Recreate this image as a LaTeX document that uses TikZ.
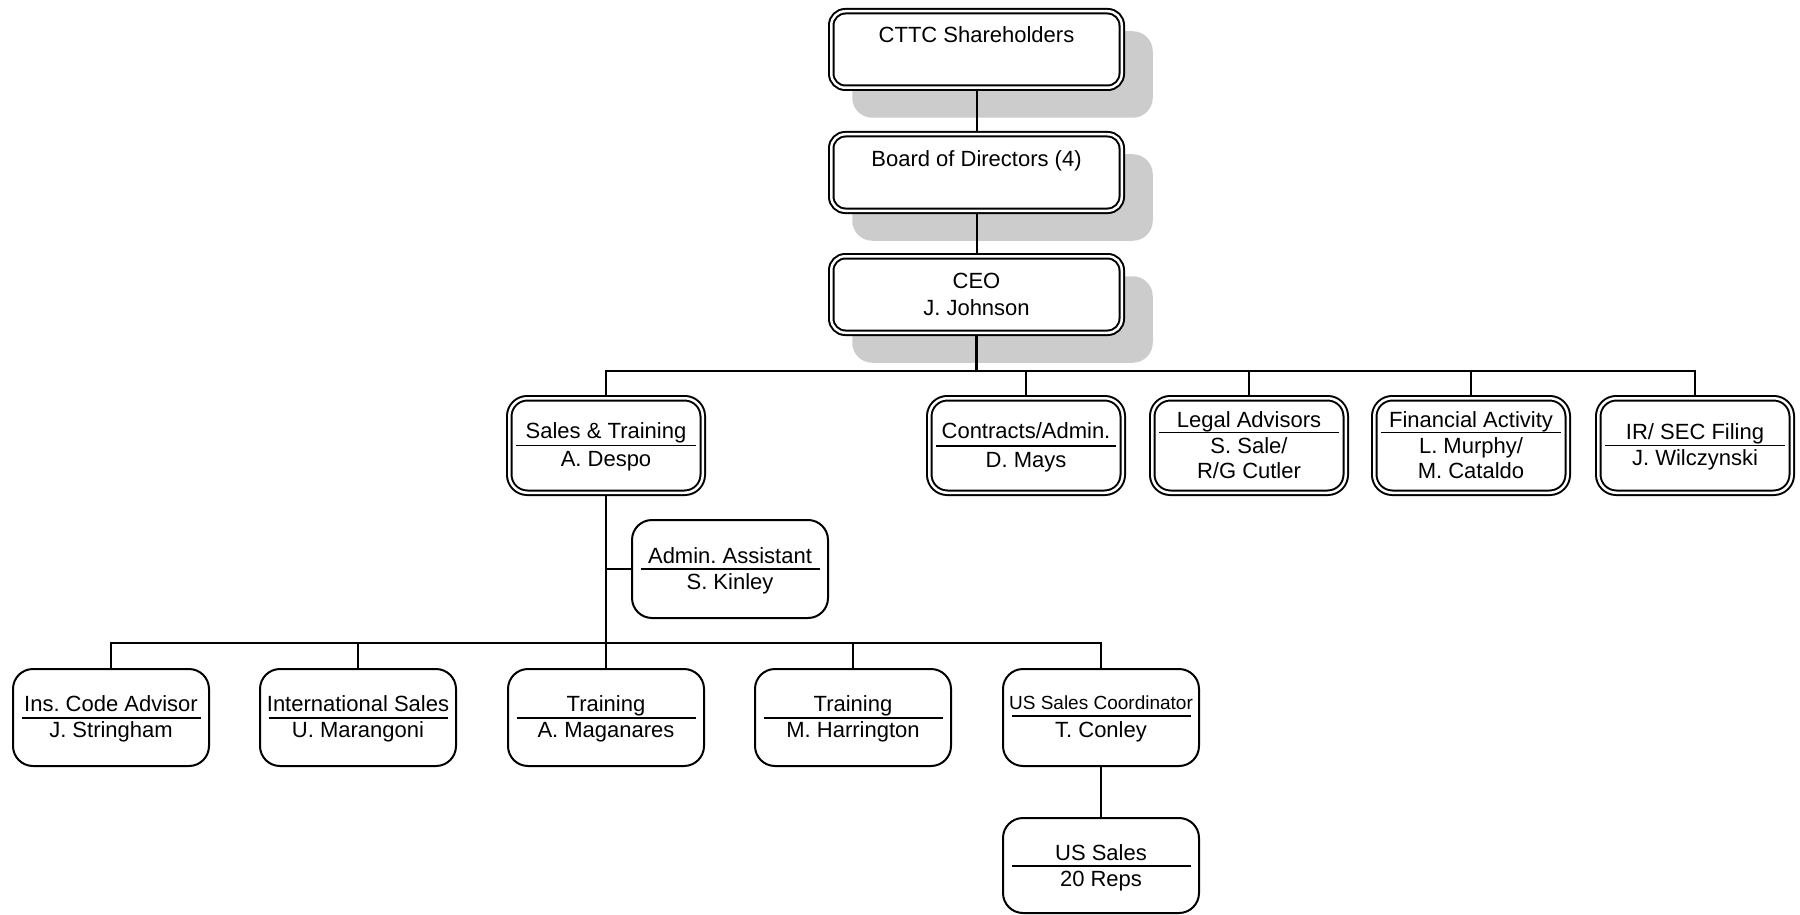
\documentclass[tikz,border=0pt]{standalone}
\usepackage{fontspec}
\setmainfont{Liberation Sans}
\frenchspacing
\usetikzlibrary{backgrounds,calc}
\tikzset{
  lvlone/.style={draw, line width=1pt, double=white, double distance=1.25pt, rounded corners=7pt, fill=white, minimum width=145.25pt, minimum height=38.25pt, inner sep=0pt},
  lvltwo/.style={draw, line width=1pt, double=white, double distance=1.25pt, rounded corners=9pt, fill=white, minimum width=96.75pt, minimum height=47.25pt, inner sep=0pt},
  plainbox/.style={draw, line width=1pt, rounded corners=10pt, fill=white, minimum width=98pt, minimum height=48.5pt, inner sep=0pt},
  txt/.style={anchor=base, inner sep=0pt, font=\fontsize{11pt}{13pt}\selectfont\frenchspacing},
  smalltxt/.style={anchor=base, inner sep=0pt, font=\fontsize{9.5pt}{11pt}\selectfont\frenchspacing},
  rulel/.style={line width=0.8pt},
  conn/.style={line width=1pt},
  shade/.style={fill=black!20, rounded corners=10pt}
}
\begin{document}
\begin{tikzpicture}[x=0.5pt,y=-0.5pt]
\useasboundingbox (0,0) rectangle (1800,915);
% level 1
\node[lvlone] (top) at (976.5,49.5) {};
\node[lvlone] (board) at (976.5,172.5) {};
\node[lvlone] (ceo) at (976.5,294.5) {};
\node[txt] (topT) at (976.5,43) {CTTC Shareholders};
\node[txt] (boardT) at (976.5,167) {Board of Directors (4)};
\node[txt] (ceoT) at (976.5,288) {CEO};
\node[txt] (ceoN) at (976.5,315) {J. Johnson};
% level 2
\node[lvltwo] (sales) at (606,445.5) {};
\node[lvltwo] (contracts) at (1026,445.5) {};
\node[lvltwo] (legal) at (1249,445.5) {};
\node[lvltwo] (fin) at (1471,445.5) {};
\node[lvltwo] (ir) at (1695,445.5) {};
\node[txt] at (606,438) {Sales \& Training};
\draw[rulel] (516,445.5) -- (696,445.5);
\node[txt] at (606,466) {A. Despo};
\node[txt] at (1026,438) {Contracts/Admin.};
\draw[rulel] (936,446) -- (1116,446);
\node[txt] at (1026,467) {D. Mays};
\node[txt] at (1249,427) {Legal Advisors};
\draw[rulel] (1159,432.5) -- (1339,432.5);
\node[txt] at (1249,453) {S. Sale/};
\node[txt] at (1249,478) {R/G Cutler};
\node[txt] at (1471,427) {Financial Activity};
\draw[rulel] (1381,432.5) -- (1561,432.5);
\node[txt] at (1471,453) {L. Murphy/};
\node[txt] at (1471,478) {M. Cataldo};
\node[txt] at (1695,439) {IR/ SEC Filing};
\draw[rulel] (1605,445.5) -- (1785,445.5);
\node[txt] at (1695,465) {J. Wilczynski};
% admin assistant
\node[plainbox, minimum height=49pt] (admin) at (730,569) {};
\node[txt] at (730,563) {Admin. Assistant};
\draw[rulel] (640.5,569) -- (819.5,569);
\node[txt] at (730,589) {S. Kinley};
% level 3
\node[plainbox] (ins) at (111,717.5) {};
\node[plainbox] (intl) at (358,717.5) {};
\node[plainbox] (train1) at (606,717.5) {};
\node[plainbox] (train2) at (853,717.5) {};
\node[plainbox] (uscoord) at (1101,717.5) {};
\node[txt] at (111,711) {Ins. Code Advisor};
\draw[rulel] (21.5,718) -- (200.5,718);
\node[txt] at (111,737) {J. Stringham};
\node[txt] at (358,711) {International Sales};
\draw[rulel] (268.5,718) -- (447.5,718);
\node[txt] at (358,737) {U. Marangoni};
\node[txt] at (606,711) {Training};
\draw[rulel] (516.5,718) -- (695.5,718);
\node[txt] at (606,737) {A. Maganares};
\node[txt] at (853,711) {Training};
\draw[rulel] (763.5,718) -- (942.5,718);
\node[txt] at (853,737) {M. Harrington};
\node[smalltxt] at (1101,709) {US Sales Coordinator};
\draw[rulel] (1011.5,716) -- (1190.5,716);
\node[txt] at (1101,737) {T. Conley};
% US sales
\node[plainbox, minimum height=47.5pt] (ussales) at (1101,865.5) {};
\node[txt] at (1101,860) {US Sales};
\draw[rulel] (1011.5,866) -- (1190.5,866);
\node[txt] at (1101,886) {20 Reps};
% bus coordinates
\coordinate (busA) at (976.5,371);
\coordinate (busB) at (606,643);
\coordinate (adminJ) at (606,569);
\begin{scope}[on background layer]
  \fill[shade] ($(top.north west)+(22,21)$) rectangle ($(top.south east)+(30,29)$);
  \fill[shade] ($(board.north west)+(22,21)$) rectangle ($(board.south east)+(30,29)$);
  \fill[shade] ($(ceo.north west)+(22,21)$) rectangle ($(ceo.south east)+(30,29)$);
  \draw[conn] (top) -- (board);
  \draw[conn] (board) -- (ceo);
  \draw[conn, line width=1.3pt] (ceo.south) -- (busA);
  \draw[conn] (sales.north) -- (sales.north |- busA) -- (ir.north |- busA) -- (ir.north);
  \draw[conn] (contracts.north) -- (contracts.north |- busA);
  \draw[conn] (legal.north) -- (legal.north |- busA);
  \draw[conn] (fin.north) -- (fin.north |- busA);
  \draw[conn] (sales.south) -- (train1.north);
  \draw[conn] (adminJ) -- (admin.west);
  \draw[conn] (ins.north) -- (ins.north |- busB) -- (uscoord.north |- busB) -- (uscoord.north);
  \draw[conn] (intl.north) -- (intl.north |- busB);
  \draw[conn] (train2.north) -- (train2.north |- busB);
  \draw[conn] (uscoord) -- (ussales);
\end{scope}
\end{tikzpicture}
\end{document}
